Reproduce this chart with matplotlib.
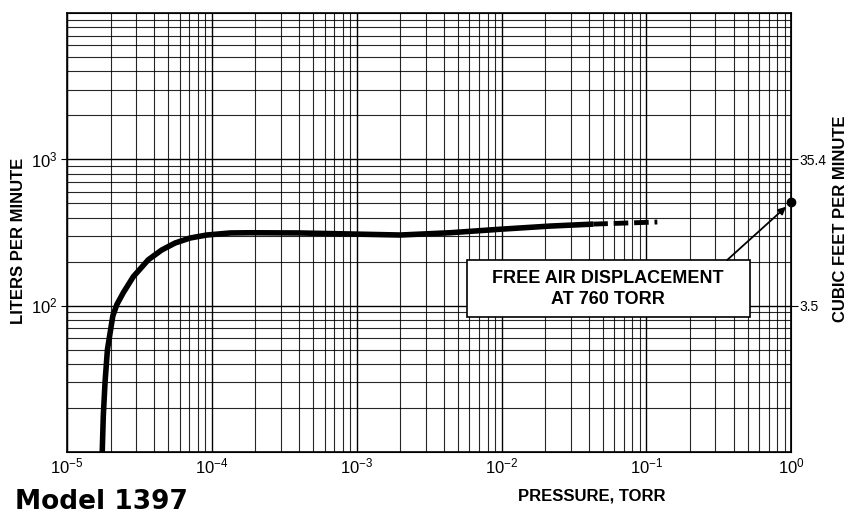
import numpy as np
import matplotlib
matplotlib.use("Agg")
import matplotlib.pyplot as plt
from matplotlib.patches import Rectangle
from matplotlib.ticker import LogLocator, NullFormatter, FixedLocator

# pump speed curve, L/min vs torr
pressure_solid = [1.75e-5, 1.78e-5, 1.83e-5, 1.90e-5, 2.07e-5, 2.21e-5, 2.45e-5,
                  2.87e-5, 3.64e-5, 4.5e-5, 5.57e-5, 7.07e-5, 9.22e-5, 1.34e-4,
                  1.84e-4, 4.0e-4, 9.0e-4, 2.0e-3, 4.4e-3, 9.8e-3, 2.17e-2, 4.3e-2]
speed_solid = [10, 17.7, 30, 50, 85, 102, 123, 158, 206, 240, 268, 290, 304, 314,
               315, 314, 309, 304, 315, 333, 350, 361]
pressure_dash = [4.3e-2, 0.119]
speed_dash = [361, 373]
fad_pressure = 1.0
fad_speed = 510

xticks = [1e-5, 1e-4, 1e-3, 1e-2, 1e-1, 1e0]
xlabels = ["$10^{-5}$", "$10^{-4}$", "$10^{-3}$", "$10^{-2}$", "$10^{-1}$", "$10^{0}$"]
yticks = [1e2, 1e3]
ylabels = ["$10^{2}$", "$10^{3}$"]
cfm_labels = ["3.5", "35.4"]

sans = ["Liberation Sans", "DejaVu Sans"]
plt.rcParams["mathtext.fontset"] = "custom"
plt.rcParams["mathtext.rm"] = "Liberation Sans"
plt.rcParams["mathtext.it"] = "Liberation Sans:italic"
plt.rcParams["mathtext.bf"] = "Liberation Sans:bold"

fig = plt.figure(figsize=(8.55, 5.19), dpi=100)
ax = fig.add_axes([0.0784, 0.129, 0.847, 0.846])
ax.set_xscale("log")
ax.set_yscale("log")
ax.set_xlim(1e-5, 1e0)
ax.set_ylim(1e1, 1e4)

ax.xaxis.set_minor_locator(LogLocator(base=10, subs=np.arange(2, 10)))
ax.yaxis.set_minor_locator(LogLocator(base=10, subs=np.arange(2, 10)))
ax.xaxis.set_minor_formatter(NullFormatter())
ax.yaxis.set_minor_formatter(NullFormatter())
ax.grid(True, which="major", color="black", lw=1.0)
ax.grid(True, which="minor", color="black", lw=0.8, alpha=0.85)
ax.set_axisbelow(True)

ax.xaxis.set_major_locator(FixedLocator(xticks))
ax.set_xticklabels(xlabels, fontsize=12)
ax.yaxis.set_major_locator(FixedLocator(yticks))
ax.set_yticklabels(ylabels, fontsize=12)
ax.tick_params(which="both", length=0, pad=4)
ax.tick_params(axis="y", which="major", length=4, pad=3)
for sp in ax.spines.values():
    sp.set_linewidth(1.2)

ax.plot(pressure_solid, speed_solid, color="black", lw=4, solid_capstyle="butt",
        solid_joinstyle="round")
ax.plot(pressure_dash, speed_dash, color="black", lw=3.5, ls=(0, (3, 1.2)))
ax.plot([fad_pressure], [fad_speed], "o", color="black", ms=6, clip_on=False, zorder=5)

# annotation box
ax.add_patch(Rectangle((0.5525, 0.3075), 0.3909, 0.13, transform=ax.transAxes,
                       fc="white", ec="black", lw=1.2, zorder=4))
ax.text(0.7472, 0.3713, "FREE AIR DISPLACEMENT\nAT 760 TORR", transform=ax.transAxes,
        ha="center", va="center", fontsize=13, fontweight="bold", family=sans,
        linespacing=1.25, zorder=6)
ax.annotate("", xy=(fad_pressure, fad_speed), xytext=(0.9116, 0.4374),
            textcoords="axes fraction", zorder=6,
            arrowprops=dict(arrowstyle="-|>", color="black", lw=1.3,
                            shrinkA=0, shrinkB=5, mutation_scale=11))

ax2 = ax.twinx()
ax2.set_yscale("log")
ax2.set_ylim(ax.get_ylim())
ax2.yaxis.set_major_locator(FixedLocator(yticks))
ax2.yaxis.set_minor_locator(FixedLocator([]))
ax2.yaxis.set_minor_formatter(NullFormatter())
ax2.set_yticklabels(cfm_labels, fontsize=10, family=sans)
ax2.tick_params(axis="y", length=5, pad=1)

fig.text(0.022, 0.5356, "LITERS PER MINUTE", rotation=90, ha="center", va="center",
         fontsize=12, fontweight="bold", family=sans)
fig.text(0.983, 0.579, "CUBIC FEET PER MINUTE", rotation=90, ha="center", va="center",
         fontsize=12, fontweight="bold", family=sans)
fig.text(0.692, 0.0434, "PRESSURE, TORR", ha="center", va="center",
         fontsize=12, fontweight="bold", family=sans)
fig.text(0.018, 0.032, "Model 1397", ha="left", va="center",
         fontsize=19, fontweight="bold", family=["DejaVu Sans"])

fig.savefig("out.png", dpi=100)
